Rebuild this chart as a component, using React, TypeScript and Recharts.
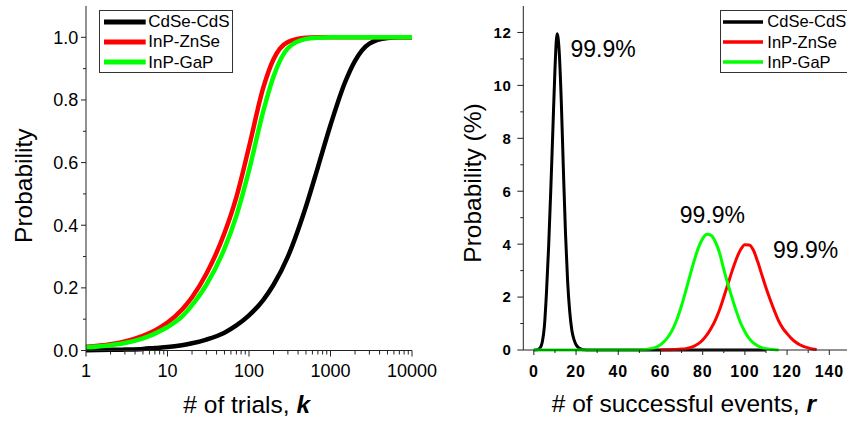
import React from "react";
import { LineChart, Line, XAxis, YAxis, Legend, ReferenceDot } from "recharts";

const FONT = "'Liberation Sans', Arial, Helvetica, sans-serif";
const AXIS = "#222";

// left panel: cumulative probability vs. number of trials k
const trialK = [1, 2, 3, 5, 7, 10, 15, 20, 30, 50, 70, 100, 150, 200, 300, 500, 700, 1000, 1500, 2000, 3000, 5000, 7000, 10000];
const cdseCdsCum = [0.001, 0.002, 0.003, 0.005, 0.008, 0.011, 0.017, 0.023, 0.035, 0.057, 0.08, 0.112, 0.162, 0.21, 0.3, 0.46, 0.585, 0.72, 0.855, 0.925, 0.98, 0.998, 1.0, 1.0];
const inpZnseCum = [0.012, 0.02, 0.029, 0.047, 0.064, 0.089, 0.13, 0.17, 0.245, 0.375, 0.49, 0.65, 0.84, 0.93, 0.985, 0.999, 1.0, 1.0, 1.0, 1.0, 1.0, 1.0, 1.0, 1.0];
const inpGapCum = [0.01, 0.017, 0.024, 0.039, 0.054, 0.075, 0.108, 0.145, 0.21, 0.325, 0.43, 0.575, 0.765, 0.875, 0.965, 0.995, 0.999, 1.0, 1.0, 1.0, 1.0, 1.0, 1.0, 1.0];

const kMajor = [1, 10, 100, 1000, 10000];
const probMajor = [0, 0.2, 0.4, 0.6, 0.8, 1.0];
const probMinor = [0.1, 0.3, 0.5, 0.7, 0.9];

// right panel: distribution of successful events r (%)
const cdseR = [0, 1, 2, 3, 4, 5, 6, 7, 8, 9, 10, 11, 12, 13, 14, 15, 16, 17, 18, 19, 20, 21, 22, 23, 24, 25, 110];
const cdsePct = [0, 0.005, 0.02, 0.08, 0.3, 0.9, 2.2, 3.9, 6.0, 8.3, 10.6, 11.95, 11.3, 9.4, 6.8, 4.4, 2.6, 1.45, 0.75, 0.4, 0.2, 0.1, 0.05, 0.02, 0.01, 0, 0];
const znseR = [60, 62, 64, 66, 68, 70, 72, 74, 76, 78, 80, 82, 84, 86, 88, 90, 92, 94, 96, 98, 100, 102, 104, 106, 108, 110, 112, 114, 116, 118, 120, 122, 124, 126, 128, 130, 132, 134];
const znsePct = [0, 0.005, 0.01, 0.015, 0.025, 0.035, 0.05, 0.09, 0.15, 0.24, 0.38, 0.57, 0.82, 1.13, 1.52, 2.0, 2.5, 3.0, 3.45, 3.8, 3.98, 3.97, 3.78, 3.35, 2.85, 2.35, 1.9, 1.48, 1.1, 0.82, 0.62, 0.44, 0.3, 0.2, 0.13, 0.08, 0.04, 0.02];
const gapR = [0, 40, 50, 52, 54, 56, 58, 60, 62, 64, 66, 68, 70, 72, 74, 76, 78, 80, 82, 84, 86, 88, 90, 92, 94, 96, 98, 100, 102, 104, 106, 108, 110, 112, 114, 116];
const gapPct = [0, 0, 0.008, 0.016, 0.03, 0.058, 0.11, 0.2, 0.34, 0.54, 0.82, 1.2, 1.68, 2.24, 2.82, 3.38, 3.87, 4.21, 4.37, 4.33, 4.09, 3.67, 3.05, 2.48, 1.95, 1.45, 1.02, 0.69, 0.44, 0.27, 0.16, 0.09, 0.05, 0.025, 0.012, 0];

const rMajor = [0, 20, 40, 60, 80, 100, 120, 140];
const rMinor = [10, 30, 50, 70, 90, 110, 130];
const pctMajor = [0, 2, 4, 6, 8, 10, 12];
const pctMinor = [1, 3, 5, 7, 9, 11];
const peakText = "99.9%";

const names = { cdse: "CdSe-CdS", znse: "InP-ZnSe", gap: "InP-GaP" };
const legendOrder = [names.cdse, names.znse, names.gap];
const colors = { cdse: "#000000", znse: "#ff0000", gap: "#00ff00" };

const trialsTable = trialK.map((k, i) => ({ k, cdse: cdseCdsCum[i], znse: inpZnseCum[i], gap: inpGapCum[i] }));
const toSeries = (xs: number[], ys: number[]) => xs.map((r, i) => ({ r, p: ys[i] }));
const cdseSeries = toSeries(cdseR, cdsePct);
const znseSeries = toSeries(znseR, znsePct);
const gapSeries = toSeries(gapR, gapPct);

const peakOf = (xs: number[], ys: number[]) => {
  const i = ys.indexOf(Math.max(...ys));
  return { x: xs[i], y: ys[i] };
};

// minor log ticks 2..9 within each decade
const kMinor = kMajor.slice(0, -1).flatMap((d) => [2, 3, 4, 5, 6, 7, 8, 9].map((m) => m * d));

function bottomTick(majors: number[], fmt: (v: number) => string, text: any, majorLen = 6, minorLen = 4) {
  return (props: any) => {
    const { x, y, payload } = props;
    const major = majors.includes(payload.value);
    return (
      <g>
        <line x1={x} x2={x} y1={y} y2={y + (major ? majorLen : minorLen)} stroke={AXIS} strokeWidth={1} />
        {major && (
          <text x={x} y={y + 26.5} textAnchor="middle" fill="#000" fontFamily={FONT} {...text}>
            {fmt(payload.value)}
          </text>
        )}
      </g>
    );
  };
}

function leftTick(majors: number[], fmt: (v: number) => string, text: any, gap: number, majorLen = 5, minorLen = 3) {
  return (props: any) => {
    const { x, y, payload } = props;
    const major = majors.includes(payload.value);
    return (
      <g>
        <line x1={x - (major ? majorLen : minorLen)} x2={x} y1={y} y2={y} stroke={AXIS} strokeWidth={1} />
        {major && (
          <text x={x - gap} y={y + text.fontSize * 0.36} textAnchor="end" fill="#000" fontFamily={FONT} {...text}>
            {fmt(payload.value)}
          </text>
        )}
      </g>
    );
  };
}

function legendBox(o: { width: number; padLeft: number; lineLen: number; lineW: number; gap: number; fontSize: number }) {
  return (props: any) => {
    const items = [...(props.payload || [])].sort((a: any, b: any) => legendOrder.indexOf(a.value) - legendOrder.indexOf(b.value));
    return (
      <div
        style={{
          border: "1px solid #333",
          background: "#fff",
          width: o.width,
          height: 63,
          boxSizing: "border-box",
          paddingTop: 0.5,
          paddingLeft: o.padLeft,
          fontFamily: FONT,
        }}
      >
        {items.map((e: any) => (
          <div key={e.value} style={{ display: "flex", alignItems: "center", height: 20.3 }}>
            <svg width={o.lineLen} height={8} style={{ display: "block" }}>
              <line x1={0} x2={o.lineLen} y1={4} y2={4} stroke={e.color} strokeWidth={o.lineW} />
            </svg>
            <span style={{ marginLeft: o.gap, fontSize: o.fontSize, lineHeight: 1, color: "#000", whiteSpace: "nowrap" }}>
              {e.value}
            </span>
          </div>
        ))}
      </div>
    );
  };
}

function peakLabel(dx: number, dy: number) {
  return (props: any) => {
    const vb = props.viewBox || {};
    return (
      <text x={vb.x + dx} y={vb.y + dy} fontFamily={FONT} fontSize={23} fill="#000">
        {peakText}
      </text>
    );
  };
}

function TrialsChart() {
  return (
    <LineChart width={440} height={423} data={trialsTable} margin={{ top: 6, right: 28, left: 0, bottom: 42.5 }}>
      <XAxis
        dataKey="k"
        type="number"
        scale="log"
        domain={[1, 10000]}
        ticks={[...kMajor, ...kMinor].sort((a, b) => a - b)}
        interval={0}
        height={30}
        tickLine={false}
        tickSize={0}
        tickMargin={0}
        axisLine={{ stroke: AXIS }}
        tick={bottomTick(kMajor, (v) => String(v), { fontSize: 18 })}
        label={(p: any) => {
          const vb = p.viewBox;
          return (
            <text x={vb.x + vb.width / 2 - 2.3} y={vb.y + 62.5} textAnchor="middle" fontFamily={FONT} fontSize={24.5} fill="#000">
              # of trials, <tspan fontWeight="bold" fontStyle="italic">k</tspan>
            </text>
          );
        }}
      />
      <YAxis
        type="number"
        domain={[0, 1.1]}
        ticks={[...probMajor, ...probMinor].sort((a, b) => a - b)}
        interval={0}
        width={86}
        tickLine={false}
        tickSize={0}
        tickMargin={0}
        axisLine={{ stroke: AXIS }}
        tick={leftTick(probMajor, (v) => v.toFixed(1), { fontSize: 18 }, 7.7)}
        label={(p: any) => {
          const vb = p.viewBox;
          const cx = vb.x + 31.7;
          const cy = vb.y + vb.height / 2 + 7.5;
          return (
            <text x={cx} y={cy} transform={`rotate(-90, ${cx}, ${cy})`} textAnchor="middle" fontFamily={FONT} fontSize={24.5} fill="#000">
              Probability
            </text>
          );
        }}
      />
      <Legend
        layout="vertical"
        align="center"
        verticalAlign="middle"
        wrapperStyle={{ left: 98.7, top: 10 }}
        content={legendBox({ width: 134, padLeft: 4.3, lineLen: 41.7, lineW: 5, gap: 2.6, fontSize: 17 })}
      />
      <Line type="monotone" dataKey="cdse" name={names.cdse} stroke={colors.cdse} strokeWidth={4.5} dot={false} isAnimationActive={false} />
      <Line type="monotone" dataKey="znse" name={names.znse} stroke={colors.znse} strokeWidth={4.5} dot={false} isAnimationActive={false} />
      <Line type="monotone" dataKey="gap" name={names.gap} stroke={colors.gap} strokeWidth={4.5} dot={false} isAnimationActive={false} />
    </LineChart>
  );
}

function EventsChart() {
  const cdsePeak = peakOf(cdseR, cdsePct);
  const znsePeak = peakOf(znseR, znsePct);
  const gapPeak = peakOf(gapR, gapPct);
  return (
    <LineChart width={430} height={423} margin={{ top: 6, right: 9.6, left: 0, bottom: 43 }}>
      <XAxis
        dataKey="r"
        type="number"
        domain={[-5, 150]}
        ticks={[...rMajor, ...rMinor].sort((a, b) => a - b)}
        interval={0}
        height={30}
        tickLine={false}
        tickSize={0}
        tickMargin={0}
        axisLine={{ stroke: AXIS }}
        tick={bottomTick(rMajor, (v) => String(v), { fontSize: 16, fontWeight: "bold", letterSpacing: 0.8 }, 5, 3)}
        label={(p: any) => {
          const vb = p.viewBox;
          return (
            <text x={vb.x + vb.width / 2 - 3} y={vb.y + 62} textAnchor="middle" fontFamily={FONT} fontSize={24.5} fill="#000">
              # of successful events, <tspan fontWeight="bold" fontStyle="italic">r</tspan>
            </text>
          );
        }}
      />
      <YAxis
        type="number"
        domain={[0, 13]}
        ticks={[...pctMajor, ...pctMinor].sort((a, b) => a - b)}
        interval={0}
        width={93.3}
        tickLine={false}
        tickSize={0}
        tickMargin={0}
        axisLine={{ stroke: AXIS }}
        tick={leftTick(pctMajor, (v) => String(v), { fontSize: 15, fontWeight: "bold", letterSpacing: 0.8 }, 11.6, 6, 3)}
        label={(p: any) => {
          const vb = p.viewBox;
          const cx = vb.x + 51;
          const cy = vb.y + vb.height / 2 + 5;
          return (
            <text x={cx} y={cy} transform={`rotate(-90, ${cx}, ${cy})`} textAnchor="middle" fontFamily={FONT} fontSize={24.5} fill="#000">
              Probability (%)
            </text>
          );
        }}
      />
      <Legend
        layout="vertical"
        align="center"
        verticalAlign="middle"
        wrapperStyle={{ left: 290, top: 10 }}
        content={legendBox({ width: 140, padLeft: 2.3, lineLen: 40, lineW: 3.5, gap: 4, fontSize: 16.5 })}
      />
      <Line data={cdseSeries} type="monotone" dataKey="p" name={names.cdse} stroke={colors.cdse} strokeWidth={3} dot={false} isAnimationActive={false} />
      <Line data={znseSeries} type="monotone" dataKey="p" name={names.znse} stroke={colors.znse} strokeWidth={3} dot={false} isAnimationActive={false} />
      <Line data={gapSeries} type="monotone" dataKey="p" name={names.gap} stroke={colors.gap} strokeWidth={3} dot={false} isAnimationActive={false} />
      <ReferenceDot x={cdsePeak.x} y={cdsePeak.y} r={0} fill="none" stroke="none" label={peakLabel(13.4, 22.9)} />
      <ReferenceDot x={gapPeak.x} y={gapPeak.y} r={0} fill="none" stroke="none" label={peakLabel(-27.1, -11.7)} />
      <ReferenceDot x={znsePeak.x} y={znsePeak.y} r={0} fill="none" stroke="none" label={peakLabel(28.2, 13.6)} />
    </LineChart>
  );
}

export default function App() {
  return (
    <div style={{ position: "absolute", left: 0, top: 0, width: 847, height: 423, overflow: "hidden", background: "#fff", fontFamily: FONT }}>
      <div style={{ position: "absolute", left: 430, top: 0 }}>
        <EventsChart />
      </div>
      <div style={{ position: "absolute", left: 0, top: 0 }}>
        <TrialsChart />
      </div>
    </div>
  );
}
